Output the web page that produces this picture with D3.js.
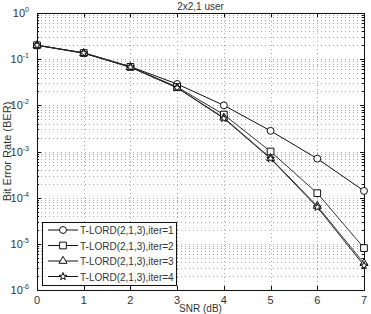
<!DOCTYPE html>
<head>
<meta charset="utf-8">
<script src="https://d3js.org/d3.v7.min.js"></script>
<style>
  body { margin: 0; background: #fff; }
  text { font-family: "Liberation Sans", Arial, sans-serif; fill: #333; }
</style>
</head>
<body>
<div id="chart"></div>
<script>
// data
var snr = [0, 1, 2, 3, 4, 5, 6, 7];
var iter1 = [0.2, 0.138, 0.069, 0.029, 0.0100, 0.0028, 0.00070, 0.00014];
var iter2 = [0.2, 0.136, 0.068, 0.025, 0.0063, 0.0010, 0.000125, 0.0000081];
var iter3 = [0.2, 0.135, 0.067, 0.024, 0.0054, 0.00072, 0.000066, 0.0000038];
var iter4 = [0.2, 0.135, 0.067, 0.024, 0.0052, 0.00070, 0.000062, 0.0000034];
var names = ["T-LORD(2,1,3),iter=1", "T-LORD(2,1,3),iter=2", "T-LORD(2,1,3),iter=3", "T-LORD(2,1,3),iter=4"];
var markers = ["circle", "square", "triangle", "star"];
var xTicks = [0, 1, 2, 3, 4, 5, 6, 7];
var yExps = [0, -1, -2, -3, -4, -5, -6];

var series = [iter1, iter2, iter3, iter4].map(function (v, i) {
  return { name: names[i], marker: markers[i], values: v.map(function (d, j) { return { x: snr[j], y: d }; }) };
});

var W = 371, H = 314;
var margin = { top: 13, right: 7, bottom: 24, left: 37 };
var width = W - margin.left - margin.right,
    height = H - margin.top - margin.bottom;

var svg = d3.select("#chart").append("svg")
  .attr("width", W).attr("height", H);
var g = svg.append("g")
  .attr("transform", "translate(" + margin.left + "," + margin.top + ")");

var x = d3.scaleLinear().domain([0, 7]).range([0, width]);
var y = d3.scaleLog().domain([1e-6, 1]).range([height, 0]);

// grid: major + minor log lines
var minor = [];
for (var e = -6; e < 0; e++) for (var k = 1; k < 10; k++) minor.push(k * Math.pow(10, e));
g.append("g").selectAll("line.hg").data(minor).enter().append("line")
  .attr("x1", 0).attr("x2", width)
  .attr("y1", function (d) { return Math.round(y(d)) + 0.5; })
  .attr("y2", function (d) { return Math.round(y(d)) + 0.5; })
  .attr("stroke", "#aaa").attr("stroke-width", 1).attr("stroke-dasharray", "1,3");
g.append("g").selectAll("line.vg").data(xTicks).enter().append("line")
  .attr("x1", function (d) { return Math.round(x(d)) + 0.5; })
  .attr("x2", function (d) { return Math.round(x(d)) + 0.5; })
  .attr("y1", 0).attr("y2", height)
  .attr("stroke", "#aaa").attr("stroke-width", 1).attr("stroke-dasharray", "1,3");

// ticks on box edges
var tk = g.append("g").attr("stroke", "#111");
minor.forEach(function (d) {
  var len = Math.abs(Math.log10(d) - Math.round(Math.log10(d))) < 1e-9 ? 4 : 2;
  var yy = Math.round(y(d)) + 0.5;
  tk.append("line").attr("x1", 0).attr("x2", len).attr("y1", yy).attr("y2", yy);
  tk.append("line").attr("x1", width - len).attr("x2", width).attr("y1", yy).attr("y2", yy);
});
xTicks.forEach(function (d) {
  var xx = Math.round(x(d)) + 0.5;
  tk.append("line").attr("x1", xx).attr("x2", xx).attr("y1", height).attr("y2", height - 4);
  tk.append("line").attr("x1", xx).attr("x2", xx).attr("y1", 0).attr("y2", 4);
});

// box
g.append("rect").attr("x", 0.5).attr("y", 0.5).attr("width", width).attr("height", height)
  .attr("fill", "none").attr("stroke", "#111").attr("stroke-width", 1);

// tick labels
g.append("g").selectAll("text.xl").data(xTicks).enter().append("text")
  .attr("x", function (d) { return x(d); }).attr("y", height + 14)
  .attr("text-anchor", "middle").attr("font-size", 11).text(function (d) { return d; });
var yl = g.append("g").selectAll("text.yl").data(yExps).enter().append("text")
  .attr("x", -8).attr("y", function (d) { return y(Math.pow(10, d)) + 4; })
  .attr("text-anchor", "end").attr("font-size", 11);
yl.append("tspan").text("10");
yl.append("tspan").attr("dy", -5).attr("font-size", 7).text(function (d) { return d; });

// titles
svg.append("text").attr("x", margin.left + width / 2).attr("y", 10)
  .attr("text-anchor", "middle").attr("font-size", 10).text("2x2,1 user");
svg.append("text").attr("x", margin.left + width / 2).attr("y", 312)
  .attr("text-anchor", "middle").attr("font-size", 10).text("SNR (dB)");
svg.append("text").attr("transform", "translate(11," + (margin.top + height / 2) + ") rotate(-90)")
  .attr("text-anchor", "middle").attr("font-size", 11).text("Bit Error Rate (BER)");

// lines
var line = d3.line().x(function (d) { return x(d.x); }).y(function (d) { return y(d.y); });
var lineColors = ["#111", "#333", "#444", "#222"];
g.append("g").selectAll("path.s").data(series).enter().append("path")
  .attr("d", function (d) { return line(d.values); })
  .attr("fill", "none").attr("stroke", function (d, i) { return lineColors[i]; }).attr("stroke-width", 1);

function drawMarker(sel, type) {
  var sym;
  if (type === "circle") sym = d3.symbol().type(d3.symbolCircle).size(38);
  else if (type === "square") sym = d3.symbol().type(d3.symbolSquare).size(45);
  else if (type === "triangle") sym = d3.symbol().type(d3.symbolTriangle).size(28);
  else sym = d3.symbol().type(d3.symbolStar).size(18);
  sel.append("path").attr("d", sym()).attr("fill", "#fff").attr("stroke", "#111").attr("stroke-width", 1);
}

series.forEach(function (s) {
  var pts = g.append("g").selectAll("g").data(s.values).enter().append("g")
    .attr("transform", function (d) { return "translate(" + x(d.x) + "," + y(d.y) + ")"; });
  drawMarker(pts, s.marker);
});

// legend
var lg = svg.append("g").attr("transform", "translate(42,222)");
lg.append("rect").attr("x", 0.5).attr("y", 0.5).attr("width", 134).attr("height", 63)
  .attr("fill", "#fff").attr("stroke", "#111");
series.forEach(function (s, i) {
  var row = lg.append("g").attr("transform", "translate(0," + (8 + i * 15.5) + ")");
  row.append("line").attr("x1", 6).attr("x2", 36).attr("y1", 0).attr("y2", 0).attr("stroke", "#111");
  var m = row.append("g").attr("transform", "translate(21,0)");
  drawMarker(m, s.marker);
  row.append("text").attr("x", 38).attr("y", 4).attr("font-size", 10).text(s.name);
});
</script>
</body>
